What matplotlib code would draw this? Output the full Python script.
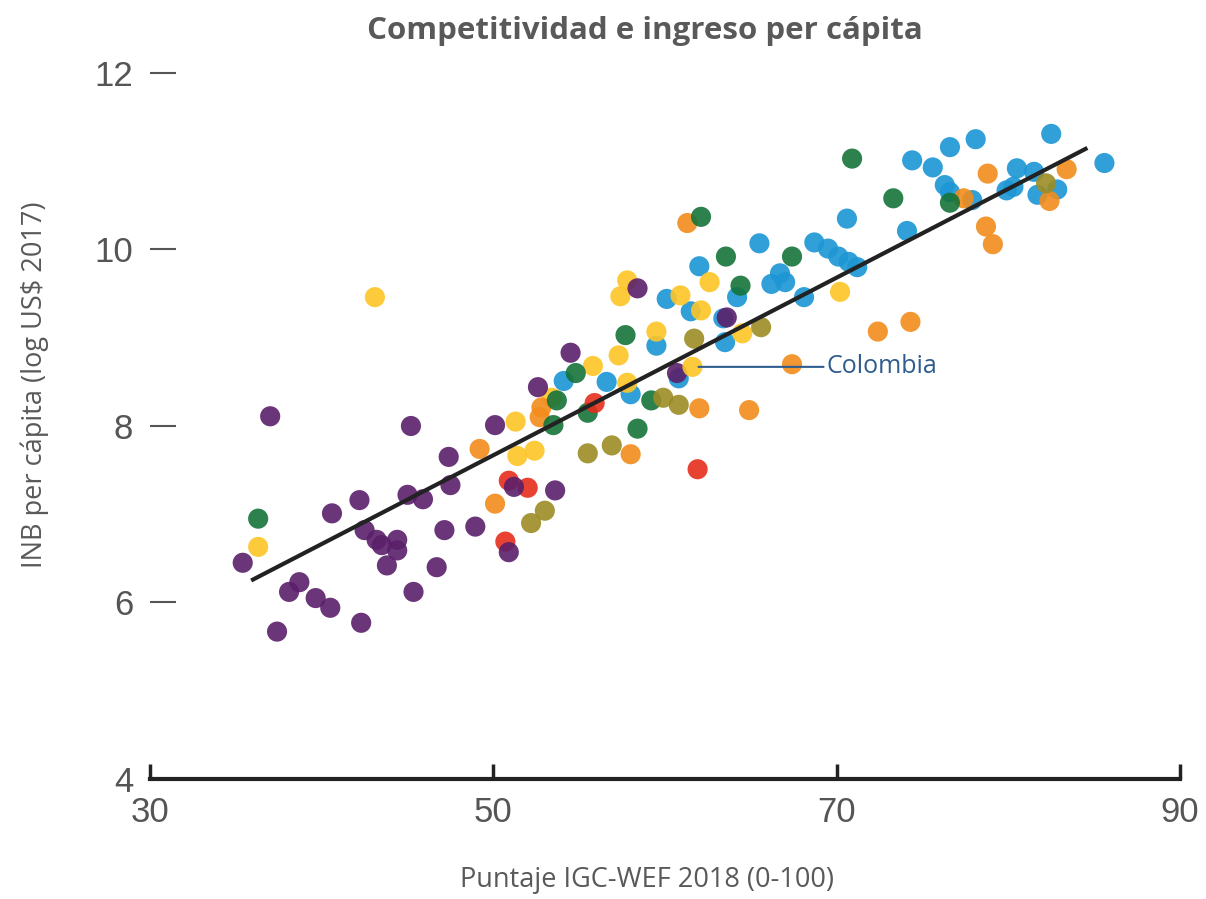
import numpy as np
import matplotlib
matplotlib.use('Agg')
import matplotlib.pyplot as plt

# puntaje IGC-WEF (x) vs log INB per capita (y), por grupo de color
blue_x = [60.1, 61.5, 63.4, 59.5, 63.5, 54.1, 56.6, 58.0, 60.8, 70.6, 65.5, 68.7, 69.5, 70.1, 70.7,
          71.2, 66.7, 67.0, 66.2, 62.0, 64.2, 68.1, 74.4, 75.6, 76.6, 78.1, 82.5, 85.6, 76.3, 76.6,
          77.9, 80.5, 81.5, 79.9, 80.3, 82.85, 81.7, 74.1]
blue_y = [9.44, 9.30, 9.22, 8.91, 8.95, 8.51, 8.50, 8.36, 8.54, 10.35, 10.07, 10.08, 10.01, 9.92, 9.86,
          9.80, 9.73, 9.63, 9.61, 9.81, 9.46, 9.46, 11.01, 10.93, 11.16, 11.25, 11.31, 10.98, 10.73, 10.65,
          10.56, 10.92, 10.88, 10.67, 10.71, 10.68, 10.62, 10.21]

yellow_x = [36.3, 43.1, 57.8, 57.4, 60.9, 62.6, 62.1, 59.5, 55.8, 57.3, 57.8, 53.4, 51.3, 51.4, 52.4,
            64.5, 70.2]
yellow_y = [6.63, 9.46, 9.65, 9.47, 9.48, 9.63, 9.31, 9.07, 8.68, 8.80, 8.49, 8.32, 8.05, 7.66, 7.72,
            9.05, 9.52]

orange_x = [49.2, 50.1, 52.8, 52.7, 62.0, 58.0, 61.3, 72.4, 67.4, 64.9, 74.3, 77.4, 78.8, 83.4, 82.4,
            78.7, 79.1]
orange_y = [7.74, 7.12, 8.21, 8.10, 8.20, 7.68, 10.30, 9.07, 8.70, 8.18, 9.18, 10.58, 10.86, 10.91, 10.55,
            10.26, 10.06]

green_x = [36.3, 57.7, 54.8, 53.7, 53.5, 55.5, 59.2, 58.4, 62.1, 63.55, 67.4, 64.4, 70.9, 76.6, 73.3]
green_y = [6.95, 9.03, 8.60, 8.29, 8.01, 8.15, 8.29, 7.97, 10.37, 9.92, 9.92, 9.59, 11.03, 10.53, 10.58]

olive_x = [61.7, 59.9, 60.8, 55.5, 56.9, 53.0, 52.2, 65.6, 82.2]
olive_y = [8.99, 8.32, 8.24, 7.69, 7.78, 7.04, 6.90, 9.12, 10.75]

red_x = [55.9, 61.9, 50.9, 52.0, 50.7]
red_y = [8.26, 7.51, 7.38, 7.30, 6.69]

purple_x = [37.0, 45.2, 50.1, 47.4, 47.5, 42.2, 40.6, 45.0, 45.9, 35.4, 42.5, 43.2, 43.5, 44.4, 44.4,
            43.8, 47.15, 48.95, 46.7, 38.7, 38.1, 39.65, 40.5, 45.35, 42.3, 37.4, 51.2, 53.6, 50.9, 52.6,
            54.5, 58.4, 63.6, 60.7]
purple_y = [8.11, 8.00, 8.01, 7.65, 7.33, 7.16, 7.01, 7.22, 7.17, 6.45, 6.82, 6.71, 6.65, 6.71, 6.59,
            6.42, 6.82, 6.86, 6.40, 6.23, 6.12, 6.05, 5.94, 6.12, 5.77, 5.67, 7.31, 7.27, 6.57, 8.44,
            8.83, 9.56, 9.23, 8.60]

colombia_x = 61.6
colombia_y = 8.67

trend_x = [36.0, 84.5]
trend_y = [6.26, 11.14]

groups = [
    (blue_x, blue_y, '#1c96d4'),
    (yellow_x, yellow_y, '#fdc526'),
    (orange_x, orange_y, '#f28c1c'),
    (green_x, green_y, '#15733a'),
    (olive_x, olive_y, '#9c8c24'),
    (red_x, red_y, '#e52d1b'),
    (purple_x, purple_y, '#5b1f6a'),
]

fig = plt.figure(figsize=(12.06, 8.99), dpi=100)
ax = fig.add_axes([0.1244, 0.1335, 0.8540, 0.7853])

for gx, gy, col in groups:
    ax.scatter(gx, gy, s=210, c=col, alpha=0.9, edgecolors='none', zorder=2)
ax.scatter([colombia_x], [colombia_y], s=210, c='#fdc526', alpha=0.9, edgecolors='none', zorder=2)

ax.plot(trend_x, trend_y, color='#222222', lw=3, zorder=3)

ax.annotate('Colombia', xy=(colombia_x + 0.35, colombia_y), xytext=(69.4, colombia_y),
            color='#2e5c8e', fontsize=18, family='Open Sans', va='center', ha='left',
            arrowprops=dict(arrowstyle='-', color='#2e5c8e', lw=1.5, shrinkA=0, shrinkB=0))

ax.set_xlim(30, 90)
ax.set_ylim(4, 12)
ax.set_xticks([30, 50, 70, 90])
ax.set_yticks([4, 6, 8, 10, 12])

for s in ['top', 'right', 'left']:
    ax.spines[s].set_visible(False)
ax.spines['bottom'].set_linewidth(3)
ax.spines['bottom'].set_color('#222222')

ax.tick_params(axis='x', direction='in', length=11, width=2.5, color='#222222',
               labelsize=25, labelcolor='#555555', pad=12)
ax.tick_params(axis='y', direction='in', length=19, width=1.5, color='#555555',
               labelsize=25, labelcolor='#555555', pad=12)
for lab in ax.get_xticklabels() + ax.get_yticklabels():
    lab.set_family('Liberation Sans')

ax.set_xlabel('Puntaje IGC-WEF 2018 (0-100)', fontsize=19.5, color='#595959', family='Open Sans', va='center')
ax.xaxis.set_label_coords(0.483, -0.143)
ax.set_ylabel('INB per cápita (log US$ 2017)', fontsize=19.5, color='#595959', family='Open Sans', va='center')
ax.yaxis.set_label_coords(-0.112, 0.558)
fig.text(0.535, 0.966, 'Competitividad e ingreso per cápita', fontsize=22.5, fontweight='bold',
         color='#595959', family='Open Sans', ha='center', va='center')

fig.savefig('out.png', dpi=100)
